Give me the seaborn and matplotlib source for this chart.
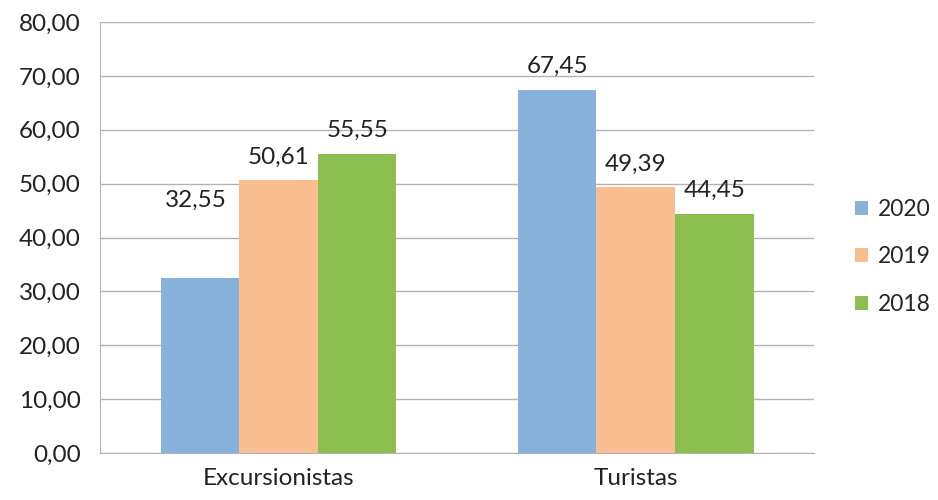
import matplotlib
matplotlib.use("Agg")
import matplotlib.pyplot as plt
import pandas as pd
import seaborn as sns
from matplotlib.ticker import FuncFormatter

categories = ["Excursionistas", "Turistas"]
years      = ["2020", "2019", "2018"]
v2020      = [32.55, 67.45]
v2019      = [50.61, 49.39]
v2018      = [55.55, 44.45]
colors     = ["#86B2DC", "#F9BE8F", "#8DBF50"]
# extra lift (points) for each data label, per year then category
label_pad  = [[48, 9], [9, 9], [9, 9]]

df = pd.DataFrame({
    "categoria": categories * 3,
    "ano": [y for y in years for _ in categories],
    "valor": v2020 + v2019 + v2018,
})

sns.set_style("white")
plt.rcParams["font.family"] = ["Lato", "DejaVu Sans"]

fig = plt.figure(figsize=(9.38, 5), dpi=100)
ax = fig.add_axes([0.1066, 0.094, 0.7615, 0.862])

sns.barplot(data=df, x="categoria", y="valor", hue="ano", hue_order=years,
            palette=colors, width=0.66, saturation=1, linewidth=0, ax=ax, zorder=2)

ax.set_ylim(0, 80)
ax.set_xlim(-0.5, 1.5)
ax.set_yticks(range(0, 81, 10))
ax.yaxis.set_major_formatter(FuncFormatter(lambda v, p: f"{v:.2f}".replace(".", ",")))
ax.grid(axis="y", color="#b3b3b3", linewidth=1, zorder=0)
ax.set_axisbelow(True)
ax.set_xlabel("")
ax.set_ylabel("")
for s in ["top", "right"]:
    ax.spines[s].set_visible(False)
ax.spines["left"].set_color("#b3b3b3")
ax.spines["bottom"].set_color("#b3b3b3")
ax.tick_params(axis="y", labelsize=17.5, colors="#222222", length=0, pad=14)
ax.tick_params(axis="x", labelsize=17.5, colors="#222222", length=0, pad=11)

for cont, pads in zip(ax.containers, label_pad):
    for bar, pad in zip(cont, pads):
        h = bar.get_height()
        ax.annotate(f"{h:.2f}".replace(".", ","),
                    (bar.get_x() + bar.get_width() / 2, h),
                    xytext=(-3 if pad > 20 else 0, pad), textcoords="offset points",
                    ha="center", va="bottom", fontsize=17.5, color="#222222")

leg = ax.legend(loc="center left", bbox_to_anchor=(1.035, 0.455), frameon=False,
                fontsize=16.5, handlelength=0.55, handleheight=0.55, handletextpad=0.45,
                labelspacing=1.15, borderaxespad=0.3)

fig.savefig("out.png", dpi=100)
